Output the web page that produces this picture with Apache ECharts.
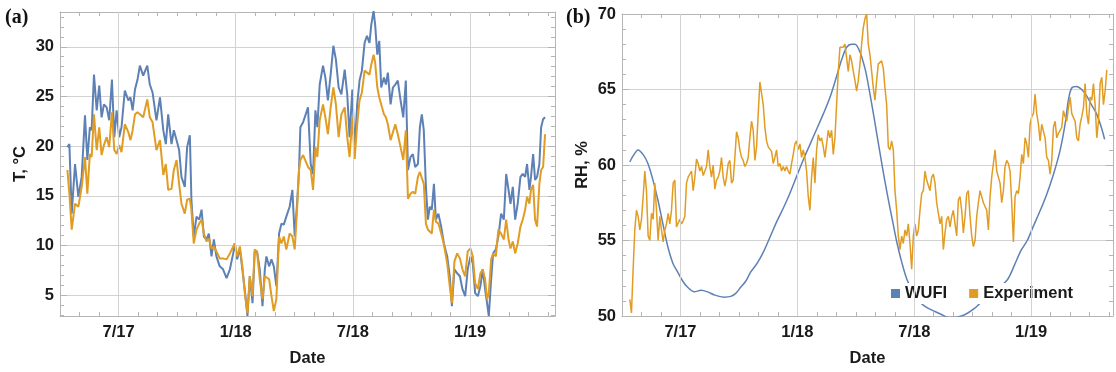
<!DOCTYPE html>
<html>
<head>
<meta charset="utf-8">
<script src="https://cdn.jsdelivr.net/npm/echarts@6/dist/echarts.min.js"></script>
<style>
  html, body { margin: 0; padding: 0; background: #fff; }
  #chart { width: 1116px; height: 372px; }
</style>
</head>
<body>
<div id="chart"></div>
<script>
// x values are months counted from Jan 2017 (6 = Jul 2017, 12 = Jan 2018 ...)

// (a) temperature, °C
const tMonths = [
  3.38, 3.48, 3.60, 3.77, 3.94, 4.11, 4.28, 4.40, 4.53, 4.62,
  4.74, 4.88, 5.01, 5.13, 5.25, 5.39, 5.52, 5.66, 5.78, 5.90,
  6.03, 6.15, 6.32, 6.50, 6.61, 6.72, 6.84, 6.97, 7.09, 7.26,
  7.47, 7.60, 7.74, 7.94, 8.12, 8.29, 8.42, 8.54, 8.71, 8.83,
  8.97, 9.10, 9.22, 9.39, 9.51, 9.65, 9.73, 9.85, 9.99, 10.13,
  10.25, 10.37, 10.50, 10.62, 10.76, 10.88, 11.01, 11.18, 11.35, 11.53,
  11.70, 11.87, 11.95, 12.07, 12.21, 12.34, 12.48, 12.60, 12.72, 12.86,
  12.97, 13.09, 13.23, 13.37, 13.49, 13.57, 13.71, 13.83, 13.95, 14.08,
  14.22, 14.34, 14.46, 14.59, 14.76, 14.90, 15.02, 15.14, 15.24, 15.31,
  15.45,
  15.70, 15.84, 15.96, 16.08, 16.18, 16.30, 16.47, 16.59, 16.72, 16.86,
  17.00, 17.13, 17.27, 17.41, 17.58, 17.71, 17.83, 17.97, 18.09, 18.22,
  18.34, 18.46, 18.60, 18.72, 18.85, 18.94, 19.06, 19.14, 19.25, 19.35,
  19.45, 19.59, 19.69, 19.79, 19.93, 20.05, 20.17, 20.30, 20.44, 20.58,
  20.71, 20.82, 20.95, 21.07, 21.19, 21.33, 21.43, 21.53, 21.63, 21.74,
  21.84, 21.94, 22.04, 22.15, 22.25, 22.38, 22.52, 22.66, 22.83, 22.96,
  23.07, 23.20, 23.34, 23.48, 23.61, 23.75, 23.88, 24.02, 24.14, 24.26,
  24.40, 24.53, 24.65, 24.77, 24.87, 24.96, 25.08, 25.18, 25.32, 25.45,
  25.59, 25.73, 25.85, 25.97, 26.07, 26.19, 26.31, 26.44, 26.58, 26.70,
  26.82, 26.92, 27.04, 27.12, 27.23, 27.33, 27.43, 27.55, 27.64, 27.74,
  27.84
];
const tWufi = [
  19.9, 20.2, 13.2, 18.2, 14.9, 16.9, 23.1, 18.6, 21.9, 21.6,
  27.2, 23.6, 26.1, 22.9, 24.2, 23.9, 22.6, 26.7, 20.9, 23.6,
  20.9, 21.9, 25.6, 24.6, 24.9, 23.6, 25.7, 26.7, 28.1, 27.1,
  28.1, 26.2, 25.4, 22.6, 24.9, 21.6, 20.2, 23.2, 20.2, 21.6,
  20.6, 19.6, 16.9, 15.9, 19.9, 21.1, 14.6, 10.9, 12.9, 12.6,
  13.6, 10.9, 10.6, 11.2, 8.9, 10.6, 8.9, 7.9, 7.6, 6.7,
  7.6, 9.2, 10.2, 8.6, 9.7, 7.6, 5.2, 2.9, 6.9, 4.2,
  9.4, 9.4, 7.6, 3.9, 7.6, 8.9, 7.9, 8.6, 7.9, 5.9,
  11.2, 12.2, 12.1, 12.9, 13.9, 15.6, 10.9, 14.2, 17.6, 21.9,
  22.4,
  23.9, 18.2, 17.2, 23.6, 21.9, 26.2, 28.1, 26.9, 24.6, 27.2,
  30.1, 28.7, 25.9, 25.2, 27.7, 25.2, 20.9, 25.7, 19.6, 24.2,
  26.6, 27.6, 30.4, 31.1, 30.4, 32.2, 33.6, 32.2, 29.2, 30.6,
  25.9, 26.9, 26.2, 27.4, 24.2, 25.9, 26.2, 26.6, 24.6, 22.9,
  26.6, 17.6, 18.9, 19.2, 17.9, 18.2, 21.9, 23.2, 21.6, 15.9,
  12.6, 13.9, 13.6, 16.2, 12.6, 13.2, 11.9, 10.2, 8.9, 6.9,
  3.9, 7.6, 7.2, 6.9, 5.6, 4.9, 7.6, 8.9, 8.2, 5.2,
  4.9, 5.9, 7.6, 5.6, 4.2, 2.9, 6.6, 9.2, 9.6, 10.9,
  13.2, 12.6, 17.2, 15.6, 14.2, 15.9, 12.6, 14.2, 16.9, 17.2,
  16.9, 18.2, 15.6, 16.9, 19.2, 16.6, 16.9, 18.2, 21.9, 22.7,
  22.9
];
const tExp = [
  17.6, 15.2, 11.6, 14.2, 13.9, 15.9, 18.9, 15.2, 19.2, 18.9,
  23.2, 19.6, 21.9, 19.1, 20.1, 20.9, 19.9, 23.4, 19.6, 19.2,
  20.1, 19.4, 22.2, 21.4, 20.6, 21.6, 23.2, 23.4, 23.2, 22.9,
  24.7, 22.9, 22.4, 19.6, 20.6, 17.1, 18.2, 15.6, 15.7, 17.6,
  18.6, 16.2, 14.2, 13.2, 14.6, 14.7, 13.6, 10.2, 11.6, 12.2,
  12.6, 11.2, 10.4, 10.7, 9.7, 9.9, 9.4, 8.7, 8.7, 8.6,
  9.2, 9.9, 10.2, 8.9, 9.9, 7.9, 4.9, 3.2, 6.9, 4.9,
  9.6, 9.4, 6.6, 4.6, 6.9, 6.9, 6.6, 4.9, 3.4, 4.6,
  10.9, 10.2, 10.9, 9.6, 11.2, 10.9, 9.6, 13.6, 17.6, 18.6,
  19.1,
  17.9, 17.6, 15.6, 19.9, 18.9, 22.6, 24.2, 22.9, 21.2, 23.9,
  25.9, 24.2, 20.9, 23.2, 23.9, 20.9, 18.9, 22.9, 18.7, 22.2,
  24.6, 25.4, 27.6, 27.4, 27.2, 28.2, 29.2, 28.4, 25.9, 24.9,
  24.2, 23.2, 22.9, 22.2, 20.6, 21.4, 22.2, 21.2, 19.9, 18.6,
  21.6, 14.7, 15.2, 15.4, 15.2, 16.9, 17.4, 17.6, 16.2, 12.2,
  11.6, 11.4, 11.2, 13.6, 12.4, 12.2, 11.2, 10.1, 8.2, 5.9,
  4.2, 8.4, 9.2, 8.7, 7.6, 6.9, 9.4, 9.7, 8.9, 6.2,
  5.6, 7.2, 7.6, 6.6, 4.6, 5.2, 8.6, 9.2, 8.9, 11.6,
  11.2, 10.6, 12.6, 10.6, 9.7, 10.4, 9.2, 10.2, 11.9, 12.6,
  13.6, 14.9, 14.2, 15.6, 16.1, 12.6, 11.9, 16.2, 17.6, 17.9,
  21.2
];

// (b) relative humidity, %
const rhWufiMonths = [
  3.40, 3.57, 3.82, 4.08, 4.33, 4.59, 4.84, 5.10, 5.35, 5.61,
  5.86, 6.12, 6.37, 6.71, 7.05, 7.39, 7.73, 7.99, 8.24, 8.58,
  8.84, 9.09, 9.35, 9.60, 9.94, 10.28, 10.62, 10.96, 11.30, 11.64,
  11.98, 12.32, 12.66, 13.00, 13.34, 13.68, 14.02, 14.28, 14.53, 14.79,
  14.96, 15.21, 15.47, 15.60, 15.85, 16.11, 16.36, 16.61, 16.87, 17.12,
  17.37, 17.63, 17.97, 18.39, 18.73, 19.06, 19.40, 19.74, 20.08, 20.42,
  20.75, 21.09, 21.43, 22.11, 22.78, 23.12, 23.46, 23.80, 24.13, 24.47,
  24.81, 25.15, 25.49, 25.74, 25.91, 26.08, 26.33, 26.59, 26.84, 27.09,
  27.35, 27.60, 27.77
];
const rhWufi = [
  60.2, 60.6, 61.0, 60.7, 60.1, 59.0, 57.7, 56.1, 54.6, 53.5,
  52.9, 52.3, 51.9, 51.6, 51.7, 51.6, 51.4, 51.3, 51.25, 51.3,
  51.5, 51.9, 52.3, 52.9, 53.5, 54.3, 55.3, 56.3, 57.2, 58.2,
  59.3, 60.4, 61.4, 62.4, 63.4, 64.5, 65.9, 67.0, 67.8, 68.0,
  68.0, 67.5, 66.4, 65.6, 63.8, 61.8, 59.9, 58.1, 56.4, 54.8,
  53.5, 52.4, 51.5, 50.8, 50.5, 50.3, 50.1, 49.9, 49.9, 50.0,
  50.2, 50.5, 50.9, 51.6, 52.4, 53.3, 54.3, 55.0, 56.0, 57.0,
  58.1, 59.4, 61.0, 62.7, 64.3, 65.1, 65.2, 65.0, 64.6, 64.0,
  63.4, 62.5, 61.7
];
// experiment readings are evenly spaced in time
const rhExpStart = 3.40;
const rhExpStep = 0.0856;
const rhExp = [
  51.1, 50.2, 53.1, 55.7, 57.0, 56.6, 55.7, 56.4, 57.9, 59.6,
  58.3, 55.3, 55.0, 56.8, 56.4, 58.8, 57.0, 55.0, 56.6, 55.7,
  54.9, 55.7, 56.1, 56.8, 56.1, 57.0, 58.8, 59.0, 55.9, 56.0,
  56.4, 56.1, 56.3, 56.6, 58.8, 59.2, 59.1, 59.6, 58.3, 59.2,
  60.4, 60.1, 59.6, 59.9, 59.3, 59.6, 59.9, 61.0, 59.9, 59.2,
  60.0, 58.4, 59.0, 59.2, 59.6, 60.5, 59.2, 58.6, 59.2, 60.1,
  60.3, 58.8, 59.0, 60.5, 62.2, 61.8, 61.0, 60.5, 60.3, 59.9,
  60.1, 60.5, 61.8, 62.9, 62.3, 60.3, 61.2, 63.4, 65.5, 65.4,
  64.0, 62.5, 61.6, 61.2, 61.2, 60.9, 60.1, 60.5, 61.0, 59.9,
  60.1, 59.6, 59.9, 59.6, 59.9, 59.6, 59.4, 60.1, 60.7, 61.4,
  61.6, 61.0, 61.4, 60.5, 61.0, 60.5, 59.6, 57.9, 57.0, 59.2,
  60.5, 58.8, 61.0, 62.0, 61.6, 61.8, 61.2, 60.5, 61.4, 62.3,
  61.8, 62.3, 60.7, 61.8, 64.0, 66.2, 67.8, 67.9, 67.8, 68.0,
  67.1, 66.2, 67.3, 66.9, 66.2, 65.6, 64.9, 65.6, 66.7, 68.0,
  69.1, 69.7, 70.0,
  68.0, 67.3, 66.2, 65.1, 64.3, 65.6, 66.7, 66.8, 66.9, 66.4,
  65.1, 64.0, 61.2, 61.0, 61.6, 61.0, 58.3, 57.0, 55.3, 54.4,
  55.3, 54.8, 55.7, 55.3, 56.1, 54.8, 53.1, 55.3, 56.1, 55.3,
  55.7, 57.0, 58.1, 58.3, 59.6, 59.0, 59.0, 58.3, 59.2, 59.4,
  58.8, 57.5, 57.5, 56.1, 56.6, 54.4, 55.5, 56.4, 56.6, 55.9,
  56.6, 57.0, 56.1, 55.3, 57.7, 57.9, 57.0, 55.5, 56.6, 58.1,
  58.3, 56.6, 55.3, 54.6, 55.0, 56.6, 57.5, 58.3, 58.3, 57.5,
  57.5, 57.0, 55.7, 57.9, 59.2, 60.1, 61.0, 59.6, 59.2, 58.8,
  57.5, 58.3, 59.9, 60.3, 60.1, 59.6, 57.5, 54.9, 57.9, 58.3,
  58.1, 59.2, 60.7, 60.1, 61.8, 61.4, 60.5, 62.7, 63.2, 63.4,
  64.7, 63.4, 62.7, 61.6, 62.7, 62.7, 61.8, 60.5, 60.3, 59.4,
  60.3, 62.5, 62.9, 61.8, 62.1, 62.3, 62.5, 63.6, 63.2, 62.9,
  63.8, 64.5, 63.4, 63.4, 62.9, 61.8, 61.6, 62.7, 63.2, 63.8,
  65.4, 63.4, 62.7, 64.5, 64.3, 65.4, 64.0, 61.8, 62.9, 65.4,
  65.8, 64.0, 64.9, 66.3
];

const gridMonths = [6, 12, 18, 24];
const monthLabels = { 6: "7/17", 12: "1/18", 18: "7/18", 24: "1/19" };

const BLUE = "#5E81B5";
const ORANGE = "#E19C24";
const FRAME = "#b5b5b5";
const GRID = "#d2d2d2";
const INK = "#1a1a1a";
const FONT = "Liberation Sans, Arial, sans-serif";

const boldText = { color: INK, fontWeight: "bold", fontSize: 16.5, fontFamily: FONT };

function xAxes(gridIndex, max) {
  const base = {
    type: "value", gridIndex, min: 3, max, interval: 1,
    axisLine: { show: true, lineStyle: { color: FRAME } },
    axisTick: { show: true, inside: true, length: 4, lineStyle: { color: FRAME } },
    splitLine: { show: false },
  };
  return [
    {
      ...base, position: "bottom",
      name: "Date", nameLocation: "middle", nameGap: 34, nameTextStyle: boldText,
      axisLabel: { ...boldText, margin: 8, formatter: (v) => monthLabels[Math.round(v)] || "" },
    },
    { ...base, position: "top", axisLabel: { show: false } },
  ];
}

function yAxes(gridIndex, range, name, trimEnds) {
  const base = {
    type: "value", gridIndex, ...range,
    axisLine: { show: true, lineStyle: { color: FRAME } },
    axisTick: { show: true, inside: true, length: 7, lineStyle: { color: FRAME } },
    minorTick: { show: true, splitNumber: 5, length: 4, lineStyle: { color: FRAME } },
  };
  return [
    {
      ...base, position: "left",
      name, nameLocation: "middle", nameGap: 31, nameTextStyle: boldText,
      splitLine: { show: true, lineStyle: { color: GRID, width: 1 } },
      axisLabel: { ...boldText, margin: 6, showMinLabel: !trimEnds, showMaxLabel: !trimEnds },
    },
    { ...base, position: "right", splitLine: { show: false }, axisLabel: { show: false } },
  ];
}

function gridLines(xi, yi) {
  return {
    type: "line", xAxisIndex: xi, yAxisIndex: yi, data: [], z: 1, silent: true,
    markLine: {
      silent: true, symbol: ["none", "none"], label: { show: false },
      lineStyle: { color: GRID, type: "solid", width: 1 },
      data: gridMonths.map((m) => ({ xAxis: m })),
    },
  };
}

function line(name, xi, yi, xs, ys, color, width, smooth) {
  return {
    name, type: "line", xAxisIndex: xi, yAxisIndex: yi,
    data: xs.map((x, i) => [x, ys[i]]),
    showSymbol: false, smooth: smooth || false, z: 3,
    lineStyle: { color, width }, itemStyle: { color },
  };
}

const rhExpMonths = rhExp.map((_, i) => rhExpStart + i * rhExpStep);

const chart = echarts.init(document.getElementById("chart"));
chart.setOption({
  animation: false,
  backgroundColor: "#fff",
  grid: [
    { left: 60, top: 12, width: 495, height: 306 },
    { left: 622, top: 14, width: 491, height: 304 },
  ],
  xAxis: [...xAxes(0, 28.35), ...xAxes(1, 28.2)],
  yAxis: [
    ...yAxes(0, { min: 2.9, max: 33.5, splitNumber: 6 }, "T, °C", true),
    ...yAxes(1, { min: 50, max: 70, interval: 5 }, "RH, %", false),
  ],
  legend: {
    data: ["WUFI", "Experiment"],
    left: 888, top: 283,
    icon: "rect", itemWidth: 9, itemHeight: 9, itemGap: 22,
    backgroundColor: "#fff", padding: [2, 3],
    textStyle: { ...boldText },
  },
  graphic: [
    { type: "text", left: 5, top: 8, style: { text: "(a)", font: 'bold 20px "Liberation Serif", serif', fill: "#111" } },
    { type: "text", left: 566, top: 8, style: { text: "(b)", font: 'bold 20px "Liberation Serif", serif', fill: "#111" } },
  ],
  series: [
    gridLines(0, 0),
    gridLines(2, 2),
    line("WUFI", 0, 0, tMonths, tWufi, BLUE, 2),
    line("Experiment", 0, 0, tMonths, tExp, ORANGE, 2),
    line("WUFI", 2, 2, rhWufiMonths, rhWufi, BLUE, 1.5, 0.3),
    line("Experiment", 2, 2, rhExpMonths, rhExp, ORANGE, 1.5),
  ],
});
</script>
</body>
</html>
